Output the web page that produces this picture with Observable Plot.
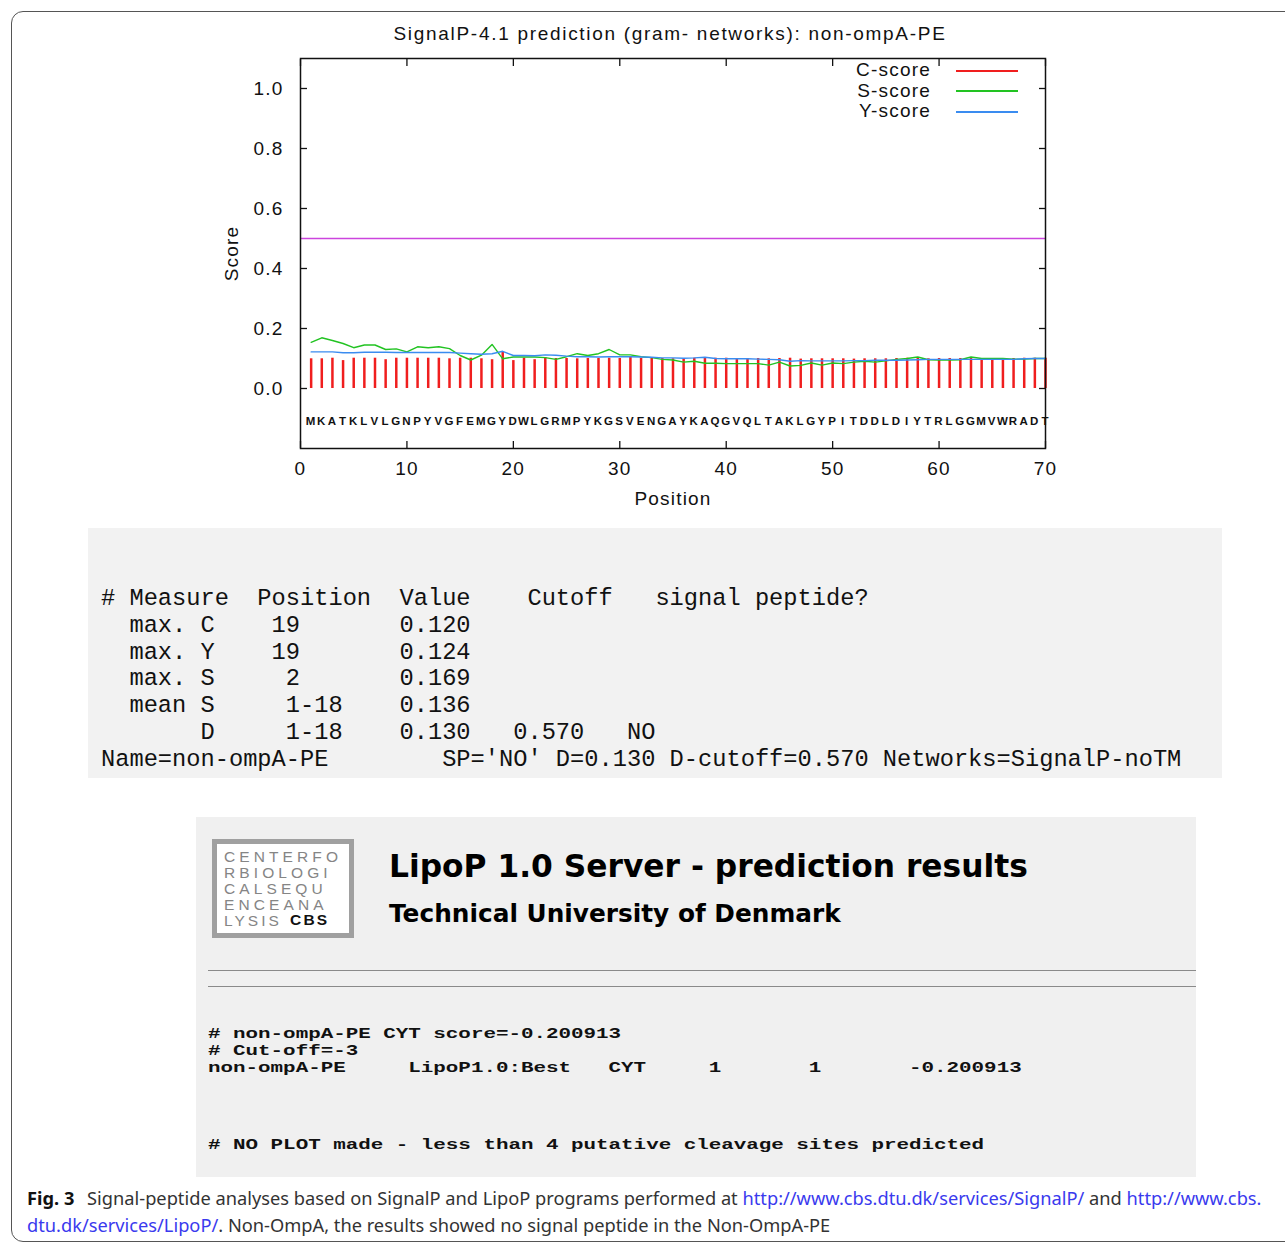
<!DOCTYPE html>
<html><head><meta charset="utf-8">
<script src="https://cdn.jsdelivr.net/npm/d3@7"></script>
<script src="https://cdn.jsdelivr.net/npm/@observablehq/plot@0.6"></script>
<style>
body{margin:0;background:#fff;}
#page{position:relative;width:1285px;height:1244px;overflow:hidden;font-family:"Liberation Sans",Arial,sans-serif;color:#111;}
#border{position:absolute;left:11px;top:11px;width:1330px;height:1229px;border:1.5px solid #555;border-radius:12px;}
#chart{position:absolute;left:0;top:0;}
#title{position:absolute;left:270px;width:800px;top:23px;text-align:center;font-size:19px;letter-spacing:1.7px;}
.legtxt{position:absolute;left:760px;width:171px;text-align:right;font-size:19px;line-height:20px;letter-spacing:1.2px;}
.legline{position:absolute;left:956px;width:62px;height:2px;}
#tbl{position:absolute;left:88px;top:528px;width:1134px;height:250px;background:#f2f2f2;}
#tbltext{position:absolute;left:101px;top:586px;margin:0;font-family:"Liberation Mono","Courier New",monospace;font-size:23.7px;line-height:26.8px;color:#111;}
#lipo{position:absolute;left:196px;top:817px;width:1000px;height:360px;background:#f0f0f0;}
#logo{position:absolute;left:212px;top:839px;width:132px;height:89px;border:5px solid #a0a0a0;background:#fff;}
.logoline{position:absolute;left:224px;font-family:"Liberation Sans",Arial,sans-serif;font-size:15.5px;line-height:15px;letter-spacing:4.1px;color:#858585;white-space:pre;}
#cbs{position:absolute;left:290px;top:912px;font-family:"Liberation Sans",Arial,sans-serif;font-weight:bold;font-size:15.5px;line-height:15px;letter-spacing:2.2px;color:#111;}
#lipotitle{position:absolute;left:389px;top:847px;font-family:"DejaVu Sans",Verdana,sans-serif;font-weight:bold;font-size:31.3px;line-height:38px;white-space:nowrap;color:#000;}
#lipoinst{position:absolute;left:389px;top:899px;font-family:"DejaVu Sans",Verdana,sans-serif;font-weight:bold;font-size:24.8px;line-height:30px;white-space:nowrap;color:#000;}
.hr{position:absolute;left:208px;width:988px;height:0;border-top:1.5px solid #8a8a8a;}
.lipotext{position:absolute;left:208px;margin:0;font-family:"Liberation Mono","Courier New",monospace;font-weight:bold;font-size:14px;line-height:17px;color:#111;transform-origin:0 0;transform:scaleX(1.49);}
#caption{position:absolute;left:27px;top:1184px;font-family:"Noto Sans","Open Sans",sans-serif;font-size:18.25px;line-height:27px;color:#333;white-space:nowrap;}
#caption b{color:#111;margin-right:8px;}
#caption a{color:#3a3aee;text-decoration:none;}
</style>
</head><body>
<div id="page">
  <div id="border"></div>
  <div id="chart"></div>
  <div id="title">SignalP-4.1 prediction (gram- networks): non-ompA-PE</div>
  <div id="legend"></div>
  <div id="tbl"></div>
  <pre id="tbltext"></pre>
  <div id="lipo"></div>
  <div id="logo"></div>
  <div id="logolines"></div>
  <div id="cbs">CBS</div>
  <div id="lipotitle">LipoP 1.0 Server - prediction results</div>
  <div id="lipoinst">Technical University of Denmark</div>
  <div class="hr" style="top:970px"></div>
  <div class="hr" style="top:986px"></div>
  <pre class="lipotext" id="lipotext" style="top:1026px"></pre>
  <pre class="lipotext" id="lipotext2" style="top:1137px"></pre>
  <div id="caption"><b>Fig. 3</b> Signal-peptide analyses based on SignalP and LipoP programs performed at <a>http://www.cbs.dtu.dk/services/SignalP/</a> and <a>http://www.cbs.</a><br><a>dtu.dk/services/LipoP/</a>. Non-OmpA, the results showed no signal peptide in the Non-OmpA-PE</div>
</div>
<script>
// ---- data ----
const sequence = "MKATKLVLGNPYVGFEMGYDWLGRMPYKGSVENGAYKAQGVQLTAKLGYPITDDLDIYTRLGGMVWRADT".split("");
const cScore = [0.099,0.099,0.101,0.093,0.101,0.101,0.101,0.096,0.101,0.101,
                0.101,0.101,0.101,0.099,0.101,0.101,0.099,0.096,0.120,0.093,
                0.101,0.096,0.103,0.100,0.100,0.099,0.100,0.100,0.101,0.100,
                0.104,0.100,0.100,0.100,0.099,0.098,0.101,0.103,0.101,0.101,
                0.100,0.100,0.100,0.099,0.100,0.101,0.098,0.099,0.099,0.099,
                0.099,0.098,0.099,0.099,0.099,0.100,0.101,0.101,0.099,0.100,
                0.100,0.100,0.101,0.100,0.100,0.100,0.100,0.101,0.101,0.101];
const sScore = [0.154,0.169,0.160,0.150,0.136,0.145,0.145,0.130,0.132,0.122,
                0.139,0.136,0.139,0.133,0.110,0.095,0.111,0.147,0.099,0.105,
                0.105,0.105,0.103,0.097,0.106,0.116,0.110,0.116,0.130,0.112,
                0.112,0.106,0.103,0.097,0.095,0.088,0.091,0.084,0.084,0.083,
                0.083,0.083,0.083,0.078,0.088,0.075,0.077,0.085,0.078,0.085,
                0.083,0.088,0.091,0.088,0.092,0.097,0.100,0.105,0.096,0.095,
                0.095,0.096,0.105,0.100,0.100,0.100,0.098,0.098,0.100,0.100];
const yScore = [0.122,0.122,0.122,0.119,0.119,0.121,0.121,0.121,0.120,0.120,
                0.120,0.120,0.120,0.120,0.118,0.116,0.114,0.116,0.124,0.110,
                0.110,0.109,0.112,0.111,0.108,0.106,0.106,0.105,0.106,0.106,
                0.106,0.105,0.104,0.102,0.102,0.101,0.102,0.104,0.100,0.099,
                0.099,0.099,0.098,0.097,0.096,0.091,0.093,0.092,0.092,0.092,
                0.092,0.093,0.093,0.094,0.094,0.094,0.095,0.096,0.097,0.097,
                0.097,0.097,0.097,0.097,0.097,0.097,0.097,0.099,0.100,0.100];
const cutoffLine = [0.5];
const yTicks = [0.0, 0.2, 0.4, 0.6, 0.8, 1.0];
const xTicks = [0, 10, 20, 30, 40, 50, 60, 70];
const legendLabels = ["C-score", "S-score", "Y-score"];
const legendColors = ["#f01e1e", "#22c322", "#3a8cf0"];
const logoLines = ["CENTERFO", "RBIOLOGI", "CALSEQU", "ENCEANA", "LYSIS"];
const tableLines = [
  "# Measure  Position  Value    Cutoff   signal peptide?",
  "  max. C    19       0.120",
  "  max. Y    19       0.124",
  "  max. S     2       0.169",
  "  mean S     1-18    0.136",
  "       D     1-18    0.130   0.570   NO",
  "Name=non-ompA-PE        SP='NO' D=0.130 D-cutoff=0.570 Networks=SignalP-noTM"
];
const lipoLines = [
  "# non-ompA-PE CYT score=-0.200913",
  "# Cut-off=-3",
  "non-ompA-PE     LipoP1.0:Best   CYT     1       1       -0.200913"
];
const lipoNote = "# NO PLOT made - less than 4 putative cleavage sites predicted";

const rows = sequence.map((aa, i) => ({pos: i + 1, aa, c: cScore[i], s: sScore[i], y: yScore[i]}));
const [red, green, blue] = legendColors;

const chart = Plot.plot({
  width: 1285, height: 520,
  marginLeft: 300, marginRight: 240, marginTop: 58, marginBottom: 72,
  x: {domain: [0, 70]},
  y: {domain: [-0.2, 1.1]},
  style: {fontFamily: "Liberation Sans, Arial, sans-serif", fontSize: "19px", letterSpacing: "1.2px", color: "#111", background: "transparent", overflow: "visible"},
  marks: [
    Plot.ruleY(cutoffLine, {stroke: "#cc44dd", strokeWidth: 1.5}),
    Plot.ruleX(rows, {x: "pos", y1: 0, y2: "c", stroke: red, strokeWidth: 2.5}),
    Plot.line(rows, {x: "pos", y: "s", stroke: green, strokeWidth: 1.4}),
    Plot.line(rows, {x: "pos", y: "y", stroke: blue, strokeWidth: 1.4}),
    Plot.text(rows, {x: "pos", text: "aa", frameAnchor: "bottom", dy: -24, fontSize: 11.5, fontWeight: "bold", fill: "#111"}),
    Plot.frame({stroke: "#111", strokeWidth: 1.5}),
    Plot.axisY(yTicks, {anchor: "left", tickSize: 0, tickPadding: 17, tickFormat: d3.format(".1f"), label: "Score", labelAnchor: "center", labelOffset: 76, labelArrow: "none"}),
    Plot.axisY(yTicks, {anchor: "left", tickSize: 7, dx: 7, tickFormat: () => "", label: null, strokeWidth: 1.3}),
    Plot.axisY(yTicks, {anchor: "right", tickSize: 7, dx: -7, tickFormat: () => "", label: null, strokeWidth: 1.3}),
    Plot.axisX(xTicks, {anchor: "bottom", tickSize: 0, tickPadding: 13, label: "Position", labelAnchor: "center", labelOffset: 56, labelArrow: "none"}),
    Plot.axisX(xTicks, {anchor: "bottom", tickSize: 7, dy: -7, tickFormat: () => "", label: null, strokeWidth: 1.3}),
    Plot.axisX(xTicks, {anchor: "top", tickSize: 7, dy: 7, tickFormat: () => "", label: null, strokeWidth: 1.3})
  ]
});
document.getElementById("chart").appendChild(chart);

// legend (HTML overlay)
const leg = document.getElementById("legend");
legendLabels.forEach((lab, i) => {
  const cy = 70 + i * 20.7;
  const t = document.createElement("div");
  t.className = "legtxt"; t.style.top = (cy - 10) + "px"; t.textContent = lab;
  const l = document.createElement("div");
  l.className = "legline"; l.style.top = (cy - 0.5) + "px"; l.style.background = legendColors[i];
  leg.appendChild(t); leg.appendChild(l);
});
// logo lines
const ll = document.getElementById("logolines");
logoLines.forEach((txt, i) => {
  const d = document.createElement("div");
  d.className = "logoline"; d.style.top = (849 + i * 16) + "px"; d.textContent = txt;
  if (i === logoLines.length - 1) d.style.letterSpacing = "3px";
  ll.appendChild(d);
});
document.getElementById("tbltext").textContent = tableLines.join("\n");
document.getElementById("lipotext").textContent = lipoLines.join("\n");
document.getElementById("lipotext2").textContent = lipoNote;
</script>
</body></html>
